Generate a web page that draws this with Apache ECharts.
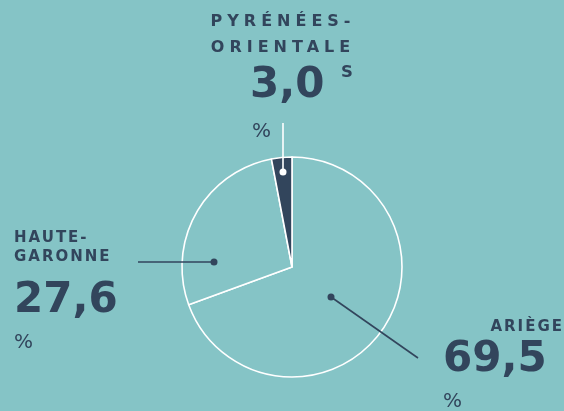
<!DOCTYPE html>
<html><head><meta charset="utf-8">
<script src="https://cdn.jsdelivr.net/npm/echarts@6/dist/echarts.min.js"></script>
<style>html,body{margin:0;padding:0;background:#85c4c6}#c{width:564px;height:411px}</style>
</head><body><div id="c"></div>
<script>
// ---- data ----
const categories = ['Ariège', 'Haute-Garonne', 'Pyrénées-Orientales'];
const shares = [69.5, 27.6, 3.0];
const unit = '%';

// ---- letter spacing for the small capital names (canvas letterSpacing) ----
(function () {
  const P = CanvasRenderingContext2D.prototype;
  const f = P.fillText, m = P.measureText;
  function ls(ctx) {
    if (!('letterSpacing' in ctx)) return;
    const s = ctx.font;
    ctx.letterSpacing = /(^|\s)15px/.test(s) ? '2px' : /(^|\s)16px/.test(s) ? '5px' : '0px';
  }
  P.fillText = function () { ls(this); return f.apply(this, arguments); };
  P.measureText = function () { ls(this); return m.apply(this, arguments); };
})();

const BG = '#85c4c6', DARK = '#32455c';
const FONT = '"DejaVu Sans"';
const fmt = v => v.toFixed(1).replace('.', ',');
const nameLines = n => n.toUpperCase().split(/(?<=-)/);

// annotation layout (label box & leader line), per category
const annot = [
  { x: 443, y: 317.75, width: 121, line: [[331, 297], [418, 358]], lineColor: DARK },
  { x: 14, y: 228.25, width: 110, line: [[214, 262], [138, 262]], lineColor: DARK },
  { x: 213, y: 8.5, width: 140, line: [[283, 172], [283, 123]], lineColor: '#ffffff' }
];

function labelText(i) {
  const lines = nameLines(categories[i]);
  const v = fmt(shares[i]);
  if (i === 0) return `{an|${lines.join('')}}\n{av|${v}}\n{ap|${unit}}`;
  if (i === 1) return lines.map(l => `{hn|${l}}`).join('\n') + `\n{hv|${v}}\n{hp|${unit}}`;
  const last = lines[1];
  return `{pn|${lines[0]}}\n{pn|${last.slice(0, -1)}}\n{pv|${v}}{ps|${last.slice(-1)}}\n{pp|${unit}}`;
}

const rich = {
  an: { fontFamily: FONT, fontSize: 15, fontWeight: 'bold', lineHeight: 19.5, align: 'right', color: DARK },
  av: { fontFamily: FONT, fontSize: 42, fontWeight: 'bold', lineHeight: 45.5, align: 'left', color: DARK },
  ap: { fontFamily: FONT, fontSize: 20, lineHeight: 38.5, align: 'left', color: DARK },
  hn: { fontFamily: FONT, fontSize: 15, fontWeight: 'bold', lineHeight: 19.5, align: 'left', color: DARK },
  hv: { fontFamily: FONT, fontSize: 42, fontWeight: 'bold', lineHeight: 67, align: 'left', color: DARK },
  hp: { fontFamily: FONT, fontSize: 20, lineHeight: 17, align: 'left', color: DARK },
  pn: { fontFamily: FONT, fontSize: 16, fontWeight: 'bold', lineHeight: 26, align: 'center', color: DARK },
  pv: { fontFamily: FONT, fontSize: 42, fontWeight: 'bold', lineHeight: 52, align: 'left', padding: [0, 0, 0, 37], color: DARK },
  ps: { fontFamily: FONT, fontSize: 16.5, fontWeight: 'bold', lineHeight: 52, align: 'right', verticalAlign: 'top', padding: [4, 0, 0, 0], color: DARK },
  pp: { fontFamily: FONT, fontSize: 20, lineHeight: 38, align: 'left', padding: [0, 0, 0, 39], color: DARK }
};

const sliceFill = [BG, BG, DARK];

const chart = echarts.init(document.getElementById('c'), null, { renderer: 'canvas' });
chart.setOption({
  backgroundColor: BG,
  animation: false,
  series: [{
    type: 'pie',
    center: [292, 267],
    radius: 110,
    startAngle: 90,
    clockwise: true,
    avoidLabelOverlap: false,
    silent: true,
    itemStyle: { borderColor: '#ffffff', borderWidth: 1.6 },
    label: {
      show: true, position: 'outside', overflow: 'none',
      formatter: p => labelText(p.dataIndex), rich: rich
    },
    labelLine: { show: false },
    labelLayout: p => {
      const a = annot[p.dataIndex];
      return { x: a.x, y: a.y, width: a.width, align: 'left', verticalAlign: 'top' };
    },
    data: categories.map((c, i) => ({
      name: c, value: shares[i],
      itemStyle: { color: sliceFill[i] }
    }))
  }],
  graphic: annot.flatMap(a => [
    { type: 'polyline', z: 100, silent: true,
      shape: { points: a.line },
      style: { stroke: a.lineColor, lineWidth: 1.6, fill: null } },
    { type: 'circle', z: 101, silent: true,
      shape: { cx: a.line[0][0], cy: a.line[0][1], r: 3.5 },
      style: { fill: a.lineColor } }
  ])
});
</script></body></html>
